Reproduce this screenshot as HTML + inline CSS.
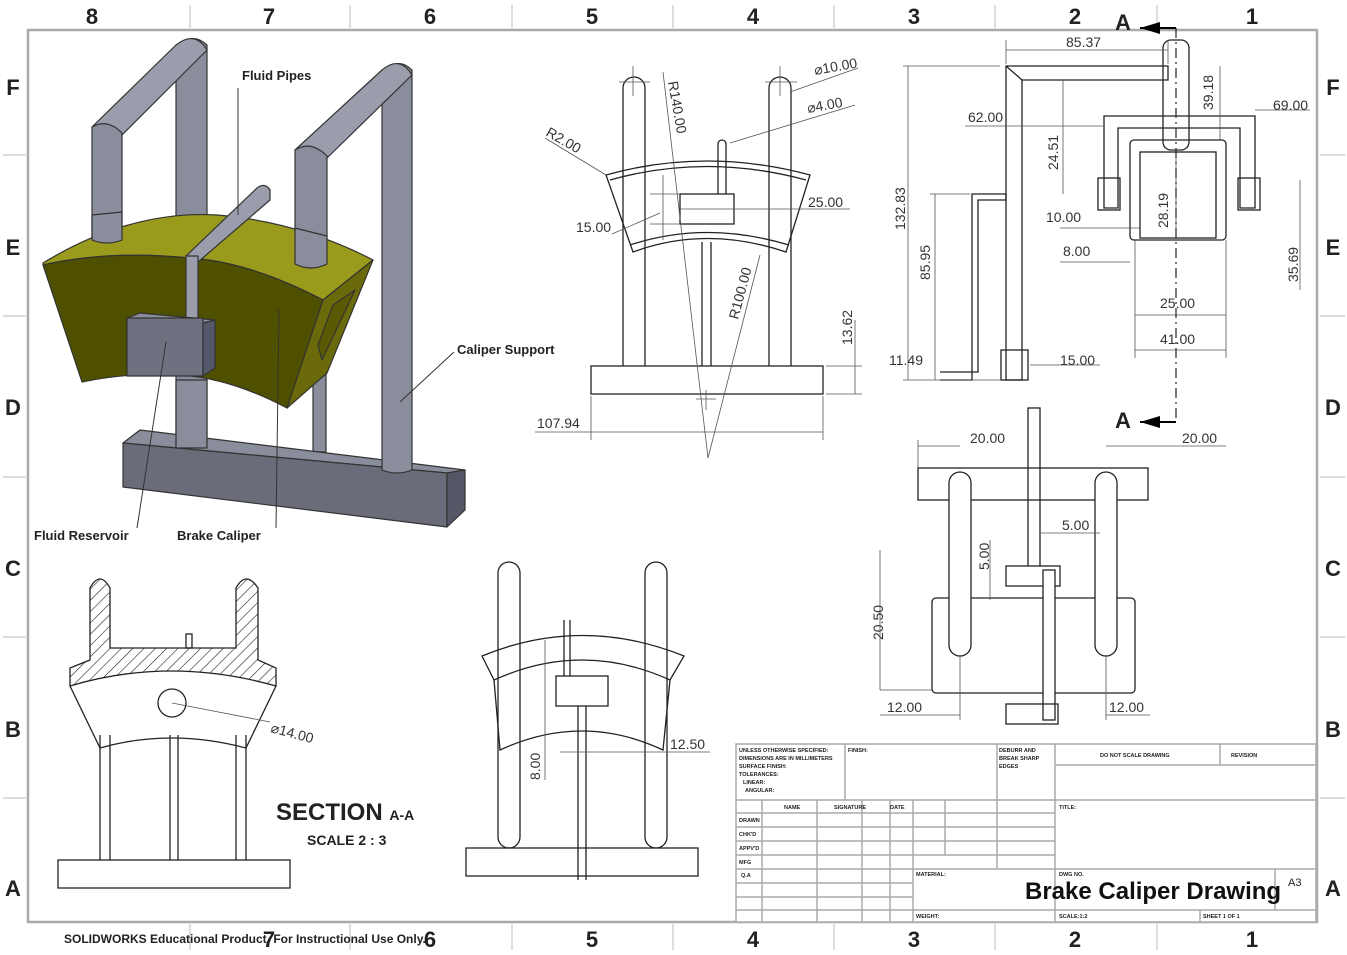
<!DOCTYPE html>
<html><head><meta charset="utf-8"><style>
html,body{margin:0;padding:0;background:#fff}
svg{display:block}
text{font-family:"Liberation Sans",sans-serif}
</style></head><body>
<svg width="1347" height="955" viewBox="0 0 1347 955" xmlns="http://www.w3.org/2000/svg">
<rect width="1347" height="955" fill="#fff"/>
<!-- frame -->
<rect x="28" y="30" width="1289" height="892" fill="none" stroke="#aaa" stroke-width="2.5"/>
<g stroke="#bbb" stroke-width="1">
<line x1="190" y1="5" x2="190" y2="28"/><line x1="350" y1="5" x2="350" y2="28"/><line x1="512" y1="5" x2="512" y2="28"/><line x1="673" y1="5" x2="673" y2="28"/><line x1="834" y1="5" x2="834" y2="28"/><line x1="995" y1="5" x2="995" y2="28"/><line x1="1157" y1="5" x2="1157" y2="28"/>
<line x1="190" y1="924" x2="190" y2="950"/><line x1="350" y1="924" x2="350" y2="950"/><line x1="512" y1="924" x2="512" y2="950"/><line x1="673" y1="924" x2="673" y2="950"/><line x1="834" y1="924" x2="834" y2="950"/><line x1="995" y1="924" x2="995" y2="950"/><line x1="1157" y1="924" x2="1157" y2="950"/>
<line x1="3" y1="155" x2="26" y2="155"/><line x1="3" y1="316" x2="26" y2="316"/><line x1="3" y1="477" x2="26" y2="477"/><line x1="3" y1="637" x2="26" y2="637"/><line x1="3" y1="798" x2="26" y2="798"/>
<line x1="1320" y1="155" x2="1345" y2="155"/><line x1="1320" y1="316" x2="1345" y2="316"/><line x1="1320" y1="477" x2="1345" y2="477"/><line x1="1320" y1="637" x2="1345" y2="637"/><line x1="1320" y1="798" x2="1345" y2="798"/>
</g>
<g font-size="22" font-weight="bold" fill="#222" text-anchor="middle">
<text x="92" y="24">8</text><text x="269" y="24">7</text><text x="430" y="24">6</text><text x="592" y="24">5</text><text x="753" y="24">4</text><text x="914" y="24">3</text><text x="1075" y="24">2</text><text x="1252" y="24">1</text>
<text x="269" y="947">7</text><text x="430" y="947">6</text><text x="592" y="947">5</text><text x="753" y="947">4</text><text x="914" y="947">3</text><text x="1075" y="947">2</text><text x="1252" y="947">1</text>
<text x="13" y="95">F</text><text x="13" y="255">E</text><text x="13" y="415">D</text><text x="13" y="576">C</text><text x="13" y="737">B</text><text x="13" y="896">A</text>
<text x="1333" y="95">F</text><text x="1333" y="255">E</text><text x="1333" y="415">D</text><text x="1333" y="576">C</text><text x="1333" y="737">B</text><text x="1333" y="896">A</text>
</g>
<text x="64" y="943" font-size="12" font-weight="bold" fill="#222">SOLIDWORKS Educational Product. For Instructional Use Only.</text>

<!-- 3D isometric view -->
<g stroke="#333" stroke-width="1.2" stroke-linejoin="round">
<!-- back posts -->
<path d="M176,50 Q191,30 207,45 L207,445 L176,445 Z" fill="#8a8d9c"/>
<rect x="313" y="300" width="13" height="152" fill="#8a8d9c"/>
<!-- base -->
<polygon points="123,443 140,430 465,470 447,473" fill="#8a8d9c"/>
<polygon points="123,443 447,473 447,527 123,487" fill="#6a6c7a"/>
<polygon points="447,473 465,470 465,510 447,527" fill="#555766"/>
<!-- right post -->
<path d="M382,75 Q397,55 412,70 L412,470 Q397,476 382,470 Z" fill="#8a8d9c"/>
<!-- left arch -->
<path d="M92,127 L176,45 Q195,30 207,50 L122,135 Z" fill="#9a9dac"/>
<path d="M92,127 Q107,118 122,133 L122,240 L92,240 Z" fill="#8a8d9c"/>
<!-- right arch -->
<path d="M295,150 L382,70 Q400,55 412,75 L327,158 Z" fill="#9a9dac"/>
<path d="M295,150 Q311,140 327,156 L327,268 L295,268 Z" fill="#8a8d9c"/>
<!-- caliper top face -->
<path d="M43,263 Q130,210 217,215 Q300,222 373,260 L323,300 Q250,262 190,258 Q110,250 43,265 Z" fill="#9a9a1c"/>
<!-- redraw arch legs over top -->
<path d="M92,215 L92,240 Q107,246 122,240 L122,212 Z" fill="#8a8d9c"/>
<path d="M295,228 L295,264 Q311,272 327,264 L327,236 Z" fill="#8a8d9c"/>
<!-- front face -->
<path d="M43,265 Q110,250 190,258 Q250,262 323,300 L287,408 Q230,378 180,375 Q130,372 82,382 Z" fill="#4f4f00"/>
<!-- side face -->
<polygon points="323,300 373,260 327,373 287,408" fill="#6a6a0a"/>
<polygon points="333,305 355,290 322,360 318,345" fill="#5a5a05"/>
<!-- fluid pipe -->
<path d="M257,188 Q265,182 270,190 L270,200 L198,262 L186,256 Z" fill="#9a9dac"/>
<rect x="186" y="256" width="12" height="64" fill="#9a9dac"/>
<!-- reservoir -->
<polygon points="127,318 140,313 215,320 203,323" fill="#8a8d9c"/>
<rect x="127" y="318" width="76" height="58" fill="#6e7180"/>
<polygon points="203,323 215,320 215,368 203,376" fill="#55576a"/>
<!-- front left post below -->
<rect x="176" y="380" width="31" height="68" fill="#8a8d9c"/>
</g>
<g font-size="13" font-weight="bold" fill="#222">
<text x="242" y="80">Fluid Pipes</text>
<text x="457" y="354">Caliper Support</text>
<text x="34" y="540">Fluid Reservoir</text>
<text x="177" y="540">Brake Caliper</text>
</g>
<g stroke="#333" stroke-width="1" fill="none">
<line x1="238" y1="88" x2="238" y2="215"/>
<line x1="454" y1="352" x2="400" y2="402"/>
<line x1="137" y1="528" x2="166" y2="342"/>
<line x1="276" y1="528" x2="279" y2="310"/>
</g>

<!-- Front view (top middle) -->
<g stroke="#222" stroke-width="1.3" fill="none">
<rect x="591" y="366" width="232" height="28"/>
<path d="M623,366 L623,88 A11,11 0 0 1 645,88 L645,366"/>
<path d="M769,366 L769,88 A11,11 0 0 1 791,88 L791,366"/>
<path d="M606,175 Q706,147 810,175 L786,252 Q706,225 633,252 Z"/>
<path d="M610,180 Q706,153 806,180"/>
<path d="M630,245 Q706,220 789,245"/>
<rect x="680" y="194" width="54" height="30" fill="#fff"/>
<path d="M718,194 L718,144 A4,4 0 0 1 726,144 L726,194"/>
<line x1="702" y1="242" x2="702" y2="366"/><line x1="711" y1="242" x2="711" y2="366"/>
</g>
<g stroke="#555" stroke-width="0.8" fill="none">
<line x1="663" y1="72" x2="708" y2="458"/><line x1="760" y1="255" x2="708" y2="458"/>
<line x1="591" y1="396" x2="591" y2="440"/><line x1="823" y1="396" x2="823" y2="440"/>
<line x1="591" y1="432" x2="823" y2="432"/><line x1="535" y1="432" x2="591" y2="432"/>
<line x1="826" y1="366" x2="862" y2="366"/><line x1="826" y1="394" x2="862" y2="394"/><line x1="855" y1="320" x2="855" y2="394"/>
<line x1="612" y1="234" x2="660" y2="213"/><line x1="663" y1="175" x2="663" y2="240"/><line x1="650" y1="194" x2="680" y2="194"/><line x1="650" y1="224" x2="680" y2="224"/>
<line x1="680" y1="209" x2="850" y2="209"/>
<line x1="545" y1="138" x2="606" y2="175"/>
<line x1="858" y1="68" x2="790" y2="92"/><line x1="855" y1="105" x2="730" y2="143"/>
<line x1="633" y1="66" x2="633" y2="96"/><line x1="619" y1="82" x2="650" y2="82"/>
<line x1="780" y1="66" x2="780" y2="96"/><line x1="765" y1="82" x2="797" y2="82"/>
<line x1="706" y1="390" x2="706" y2="410"/><line x1="696" y1="399" x2="716" y2="399"/>
</g>
<g font-size="14" fill="#333">
<text x="537" y="428">107.94</text>
<text x="576" y="232">15.00</text>
<text x="808" y="207">25.00</text>
<text x="815" y="75" transform="rotate(-10 815 75)">⌀10.00</text>
<text x="808" y="113" transform="rotate(-10 808 113)">⌀4.00</text>
<text x="545" y="135" transform="rotate(30 545 135)">R2.00</text>
<text x="668" y="82" transform="rotate(80 668 82)">R140.00</text>
<text x="738" y="320" transform="rotate(-75 738 320)">R100.00</text>
<text x="852" y="345" transform="rotate(-90 852 345)">13.62</text>
</g>

<!-- Side view (top right) -->
<g stroke="#222" stroke-width="1.3" fill="none">
<polygon points="1006,66 1168,66 1168,80 1022,80 1022,380 1006,380"/>
<line x1="1006" y1="66" x2="1022" y2="80"/>
<rect x="1001" y="350" width="27" height="30"/>
<polyline points="940,380 972,380 972,194 1006,194 1006,200 978,200 978,372 940,372 Z"/>
<rect x="1163" y="40" width="26" height="110" rx="8"/>
<polygon points="1104,116 1255,116 1255,208 1240,208 1240,128 1118,128 1118,208 1104,208"/>
<rect x="1130" y="140" width="96" height="100" rx="4"/>
<rect x="1140" y="152" width="76" height="86"/>
<rect x="1098" y="178" width="22" height="32"/>
<rect x="1238" y="178" width="22" height="32"/>
</g>
<g stroke="#555" stroke-width="0.8" fill="none">
<line x1="1006" y1="50" x2="1168" y2="50"/><line x1="1006" y1="40" x2="1006" y2="64"/><line x1="1168" y1="40" x2="1168" y2="64"/>
<line x1="903" y1="66" x2="1000" y2="66"/><line x1="908" y1="66" x2="908" y2="380"/><line x1="903" y1="380" x2="1000" y2="380"/>
<line x1="930" y1="194" x2="970" y2="194"/><line x1="935" y1="194" x2="935" y2="380"/>
<line x1="965" y1="126" x2="1104" y2="126"/>
<line x1="1063" y1="80" x2="1063" y2="194"/>
<line x1="1060" y1="228" x2="1140" y2="228"/><line x1="1060" y1="262" x2="1130" y2="262"/>
<line x1="1030" y1="365" x2="1100" y2="365"/>
<line x1="1135" y1="315" x2="1226" y2="315"/><line x1="1135" y1="350" x2="1226" y2="350"/>
<line x1="1135" y1="240" x2="1135" y2="358"/><line x1="1226" y1="240" x2="1226" y2="358"/>
<line x1="1220" y1="66" x2="1220" y2="140"/>
<line x1="1255" y1="110" x2="1310" y2="110"/>
<line x1="1300" y1="180" x2="1300" y2="290"/>
<line x1="1176" y1="150" x2="1176" y2="238"/>
</g>
<line x1="1176" y1="28" x2="1176" y2="422" stroke="#222" stroke-width="1.2" stroke-dasharray="10,4,2,4"/>
<line x1="1140" y1="28" x2="1176" y2="28" stroke="#000" stroke-width="2"/>
<line x1="1140" y1="422" x2="1176" y2="422" stroke="#000" stroke-width="2"/>
<polygon points="1140,28 1160,22 1160,34" fill="#000"/><polygon points="1140,422 1160,416 1160,428" fill="#000"/>
<g font-size="22" font-weight="bold" fill="#222"><text x="1115" y="30">A</text><text x="1115" y="428">A</text></g>
<g font-size="14" fill="#333">
<text x="1066" y="47">85.37</text>
<text x="968" y="122">62.00</text>
<text x="1273" y="110">69.00</text>
<text x="1046" y="222">10.00</text>
<text x="1063" y="256">8.00</text>
<text x="1160" y="308">25.00</text>
<text x="1160" y="344">41.00</text>
<text x="1060" y="365">15.00</text>
<text x="889" y="365">11.49</text>
<text x="905" y="230" transform="rotate(-90 905 230)">132.83</text>
<text x="930" y="280" transform="rotate(-90 930 280)">85.95</text>
<text x="1058" y="170" transform="rotate(-90 1058 170)">24.51</text>
<text x="1213" y="110" transform="rotate(-90 1213 110)">39.18</text>
<text x="1168" y="228" transform="rotate(-90 1168 228)">28.19</text>
<text x="1298" y="282" transform="rotate(-90 1298 282)">35.69</text>
</g>

<!-- Top view (middle right) -->
<g stroke="#222" stroke-width="1.3" fill="none">
<rect x="918" y="468" width="230" height="32"/>
<rect x="932" y="598" width="203" height="95" rx="4"/>
<rect x="949" y="472" width="22" height="184" rx="11" fill="#fff"/>
<rect x="1095" y="472" width="22" height="184" rx="11" fill="#fff"/>
<rect x="1028" y="408" width="12" height="160"/>
<rect x="1006" y="566" width="54" height="20" fill="#fff"/>
<rect x="1043" y="570" width="12" height="150" fill="#fff"/>
<rect x="1006" y="704" width="52" height="20"/>
</g>
<g stroke="#555" stroke-width="0.8" fill="none">
<line x1="918" y1="446" x2="960" y2="446"/><line x1="918" y1="440" x2="918" y2="468"/>
<line x1="1106" y1="446" x2="1226" y2="446"/>
<line x1="880" y1="550" x2="880" y2="690"/><line x1="880" y1="690" x2="932" y2="690"/>
<line x1="880" y1="715" x2="960" y2="715"/><line x1="1106" y1="715" x2="1150" y2="715"/>
<line x1="960" y1="655" x2="960" y2="720"/><line x1="1106" y1="655" x2="1106" y2="720"/>
<line x1="990" y1="540" x2="990" y2="600"/><line x1="1040" y1="533" x2="1100" y2="533"/>
</g>
<g font-size="14" fill="#333">
<text x="970" y="443">20.00</text><text x="1182" y="443">20.00</text>
<text x="1062" y="530">5.00</text>
<text x="887" y="712">12.00</text><text x="1109" y="712">12.00</text>
<text x="989" y="570" transform="rotate(-90 989 570)">5.00</text>
<text x="883" y="640" transform="rotate(-90 883 640)">20.50</text>
</g>

<!-- Section A-A -->
<defs><pattern id="h" width="8" height="8" patternUnits="userSpaceOnUse" patternTransform="rotate(45)"><line x1="0" y1="0" x2="0" y2="8" stroke="#222" stroke-width="1.2"/></pattern></defs>
<g stroke="#222" stroke-width="1.3" fill="none">
<rect x="58" y="860" width="232" height="28"/>
<line x1="100" y1="735" x2="100" y2="860"/><line x1="110" y1="735" x2="110" y2="860"/>
<line x1="236" y1="735" x2="236" y2="860"/><line x1="246" y1="735" x2="246" y2="860"/>
<line x1="170" y1="735" x2="170" y2="860"/><line x1="178" y1="735" x2="178" y2="860"/>
<path d="M70,686 L100,748 Q170,728 246,748 L276,686"/>
<circle cx="172" cy="703" r="14"/>
<rect x="186" y="634" width="6" height="14"/>
</g>
<path d="M70,668 L90,660 L90,588 Q100,570 110,588 L110,648 L236,648 L236,588 Q246,570 258,588 L258,660 L276,668 L276,686 Q170,656 70,686 Z" fill="url(#h)" stroke="#222" stroke-width="1.3"/>
<line x1="172" y1="703" x2="270" y2="722" stroke="#555" stroke-width="0.8"/>
<text x="270" y="732" font-size="14" fill="#333" transform="rotate(15 270 732)">⌀14.00</text>
<text x="276" y="820" font-size="24" font-weight="bold" fill="#222">SECTION <tspan font-size="14">A-A</tspan></text>
<text x="307" y="845" font-size="14" font-weight="bold" fill="#222">SCALE 2 : 3</text>

<!-- Back view (bottom middle) -->
<g stroke="#222" stroke-width="1.3" fill="none">
<rect x="466" y="848" width="232" height="28"/>
<rect x="498" y="562" width="22" height="286" rx="11"/>
<rect x="645" y="562" width="22" height="286" rx="11"/>
<path d="M482,656 Q582,615 684,656 L670,680 Q582,640 494,680 Z"/>
<path d="M494,680 L500,750 Q582,712 663,750 L670,680"/>
<rect x="556" y="676" width="52" height="30"/>
<line x1="564" y1="620" x2="564" y2="676"/><line x1="570" y1="620" x2="570" y2="676"/>
<line x1="578" y1="706" x2="578" y2="880"/><line x1="586" y1="706" x2="586" y2="880"/>
</g>
<g stroke="#555" stroke-width="0.8"><line x1="545" y1="640" x2="545" y2="780"/><line x1="560" y1="752" x2="710" y2="752"/></g>
<text x="670" y="749" font-size="14" fill="#333">12.50</text>
<text x="540" y="780" font-size="14" fill="#333" transform="rotate(-90 540 780)">8.00</text>

<!-- Title block -->
<g stroke="#aaa" stroke-width="1.5" fill="none">
<rect x="736" y="744" width="580" height="178" fill="#fff"/>
<line x1="736" y1="800" x2="1055" y2="800"/>
<line x1="845" y1="744" x2="845" y2="800"/><line x1="997" y1="744" x2="997" y2="800"/><line x1="1055" y1="744" x2="1055" y2="922"/>
<line x1="1055" y1="765" x2="1316" y2="765"/><line x1="1220" y1="744" x2="1220" y2="765"/>
<line x1="1055" y1="800" x2="1316" y2="800"/>
<line x1="736" y1="813" x2="1055" y2="813"/><line x1="736" y1="827" x2="1055" y2="827"/><line x1="736" y1="841" x2="1055" y2="841"/><line x1="736" y1="855" x2="1055" y2="855"/><line x1="736" y1="869" x2="1316" y2="869"/>
<line x1="736" y1="883" x2="913" y2="883"/><line x1="736" y1="897" x2="913" y2="897"/><line x1="736" y1="910" x2="1316" y2="910"/>
<line x1="762" y1="800" x2="762" y2="922"/><line x1="817" y1="800" x2="817" y2="922"/><line x1="862" y1="800" x2="862" y2="922"/><line x1="890" y1="800" x2="890" y2="922"/>
<line x1="913" y1="800" x2="913" y2="922"/><line x1="945" y1="800" x2="945" y2="855"/><line x1="997" y1="800" x2="997" y2="869"/>
<line x1="1275" y1="869" x2="1275" y2="910"/><line x1="1200" y1="910" x2="1200" y2="922"/>
</g>
<g font-size="5.5" font-weight="bold" fill="#222">
<text x="739" y="752">UNLESS OTHERWISE SPECIFIED:</text><text x="739" y="760">DIMENSIONS ARE IN MILLIMETERS</text><text x="739" y="768">SURFACE FINISH:</text><text x="739" y="776">TOLERANCES:</text><text x="743" y="784">LINEAR:</text><text x="745" y="792">ANGULAR:</text>
<text x="848" y="752">FINISH:</text>
<text x="999" y="752">DEBURR AND</text><text x="999" y="760">BREAK SHARP</text><text x="999" y="768">EDGES</text>
<text x="1100" y="757">DO NOT SCALE DRAWING</text><text x="1231" y="757">REVISION</text>
<text x="784" y="809">NAME</text><text x="834" y="809">SIGNATURE</text><text x="890" y="809">DATE</text>
<text x="1059" y="809">TITLE:</text>
<text x="739" y="822">DRAWN</text><text x="739" y="836">CHK'D</text><text x="739" y="850">APPV'D</text><text x="739" y="864">MFG</text><text x="741" y="877">Q.A</text>
<text x="916" y="876">MATERIAL:</text><text x="1059" y="876">DWG NO.</text>
<text x="916" y="918">WEIGHT:</text><text x="1059" y="918">SCALE:1:2</text><text x="1203" y="918">SHEET 1 OF 1</text>
</g>
<text x="1288" y="886" font-size="11" fill="#222">A3</text>
<text x="1025" y="899" font-size="24" font-weight="bold" fill="#111">Brake Caliper Drawing</text>
</svg>
</body></html>
